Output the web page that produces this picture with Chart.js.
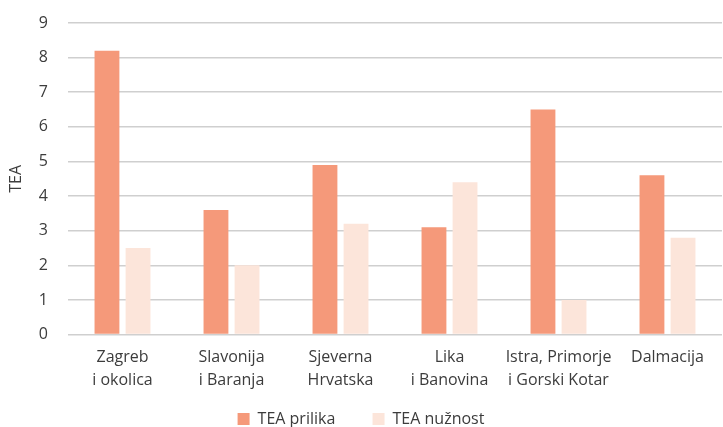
<!DOCTYPE html>
<html>
<head>
<meta charset="utf-8">
<script src="https://cdn.jsdelivr.net/npm/chart.js@4"></script>
<style>
  html, body { margin: 0; padding: 0; background: #fff; }
  #wrap { width: 723px; height: 427px; }
</style>
</head>
<body>
<div id="wrap"><canvas id="chart" width="723" height="427"></canvas></div>
<script>
const categories = [
    ['Zagreb', 'i okolica'],
    ['Slavonija', 'i Baranja'],
    ['Sjeverna', 'Hrvatska'],
    ['Lika', 'i Banovina'],
    ['Istra, Primorje', 'i Gorski Kotar'],
    ['Dalmacija']
];
const teaPrilika = [8.2, 3.6, 4.9, 3.1, 6.5, 4.6];
const teaNuznost = [2.5, 2.0, 3.2, 4.4, 1.0, 2.8];

const textColor = '#3c3c3c';
const fontFamily = '"Open Sans", "Noto Sans", sans-serif';

const ctx = document.getElementById('chart').getContext('2d');
new Chart(ctx, {
    type: 'bar',
    data: {
        labels: categories,
        datasets: [
            { label: 'TEA prilika', data: teaPrilika, backgroundColor: '#F5997A' },
            { label: 'TEA nužnost', data: teaNuznost, backgroundColor: '#FCE5DA' }
        ]
    },
    options: {
        responsive: false,
        animation: false,
        layout: { padding: { top: 23, right: 1, left: 0, bottom: -10 } },
        datasets: {
            bar: { categoryPercentage: 0.57, barPercentage: 0.8 }
        },
        scales: {
            x: {
                grid: { display: false },
                border: { display: false },
                ticks: { color: textColor, font: { family: fontFamily, size: 16, lineHeight: 1.45 }, maxRotation: 0, padding: 3 },
                // keep the gap above the legend as in the original
                afterFit: (scale) => { scale.height += 12; }
            },
            y: {
                min: 0,
                max: 9,
                ticks: { stepSize: 1, color: textColor, font: { family: fontFamily, size: 16 }, padding: 20 },
                grid: { color: '#cfcfcf', lineWidth: 1.5, drawTicks: false },
                border: { display: false },
                title: { display: true, text: 'TEA', color: textColor, font: { family: fontFamily, size: 16 }, padding: { top: 7, bottom: 0 } },
                afterFit: (scale) => { scale.width = 68; scale.paddingTop = 0; }
            }
        },
        plugins: {
            legend: {
                position: 'bottom',
                labels: {
                    color: textColor,
                    font: { family: fontFamily, size: 16 },
                    boxWidth: 12,
                    boxHeight: 12,
                    padding: 4,
                    // wider gap between the two entries without growing the legend height
                    generateLabels: (chart) => {
                        const items = Chart.defaults.plugins.legend.labels.generateLabels(chart);
                        items[0].text = items[0].text + '        ';
                        return items;
                    }
                }
            },
            tooltip: { enabled: false }
        }
    }
});
</script>
</body>
</html>
